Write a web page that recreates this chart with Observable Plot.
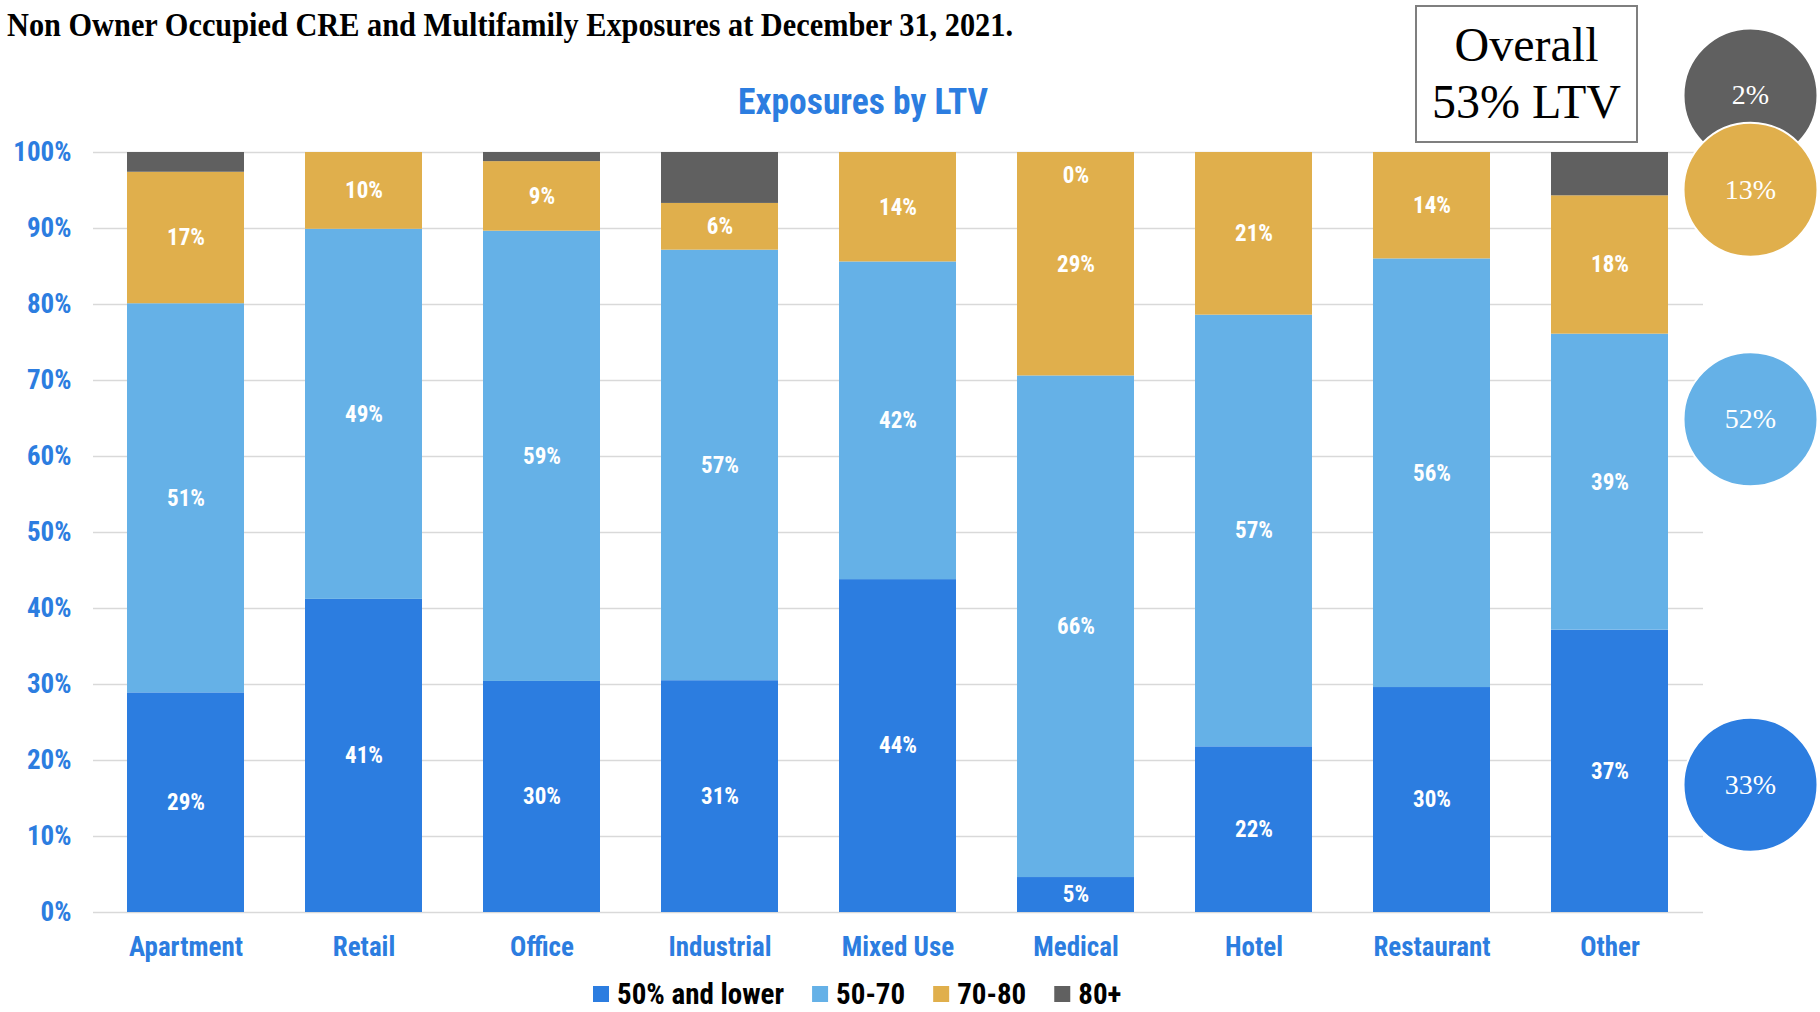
<!DOCTYPE html>
<html>
<head>
<meta charset="utf-8">
<script src="https://cdn.jsdelivr.net/npm/d3@7"></script>
<script src="https://cdn.jsdelivr.net/npm/@observablehq/plot@0.6"></script>
<style>
  html, body { margin: 0; padding: 0; background: #fff; }
  #chart { width: 1820px; height: 1012px; }
  .cond { font-family: "Roboto Condensed", "Liberation Sans Narrow", "Arial Narrow", "DejaVu Sans Condensed", "Noto Sans", sans-serif; font-stretch: condensed; font-weight: bold; }
  g[aria-label="y-axis tick label"] { font-family: "Roboto Condensed", "Liberation Sans Narrow", "Arial Narrow", "Noto Sans", sans-serif; font-stretch: condensed; font-weight: bold; font-size: 27px; fill: #2c7de0; }
  g[aria-label="x-axis tick label"] { font-family: "Roboto Condensed", "Liberation Sans Narrow", "Arial Narrow", "Noto Sans", sans-serif; font-stretch: condensed; font-weight: bold; font-size: 27px; fill: #2c7de0; }
</style>
</head>
<body>
<div id="chart"></div>
<script>
// Property types along the x axis
const categories = ["Apartment", "Retail", "Office", "Industrial", "Mixed Use", "Medical", "Hotel", "Restaurant", "Other"];

// LTV buckets, bottom to top of each stack
const bands = ["50% and lower", "50-70", "70-80", "80+"];

// Share of exposure (%) in each LTV bucket, by property type
const ltv50AndLower = [28.9, 41.2, 30.4, 30.5, 43.8, 4.6, 21.8, 29.6, 37.15];
const ltv50to70     = [51.2, 48.7, 59.25, 56.65, 41.8, 66.0, 56.8, 56.4, 38.95];
const ltv70to80     = [17.3, 10.1, 9.15, 6.15, 14.4, 29.4, 21.4, 14.0, 18.2];
const ltv80Plus     = [2.6, 0, 1.2, 6.7, 0, 0, 0, 0, 5.7];

// Types whose 80+ bucket carries a value label
const labelled80Plus = ["Medical"];

// Whole-portfolio mix by bucket (%) and the overall weighted LTV
const overallShare = [33, 52, 13, 2];
const overallLTV = 53;

// Y axis ticks (%)
const yTicks = [0, 10, 20, 30, 40, 50, 60, 70, 80, 90, 100];

// ---- presentation ----
const colors = ["#2c7de0", "#65b1e7", "#e0af4c", "#606060"];
const condensed = `"Roboto Condensed", "Liberation Sans Narrow", "Arial Narrow", "DejaVu Sans Condensed", "Noto Sans", sans-serif`;
const serif = `"Liberation Serif", "DejaVu Serif", serif`;
// vertical placement of the portfolio bubbles, in y-scale units
const bubbleAt = [16.8, 64.9, 95.1, 107.5];

const series = [ltv50AndLower, ltv50to70, ltv70to80, ltv80Plus];
const rows = categories.flatMap((category, i) =>
  bands.map((band, j) => ({category, band, value: series[j][i]}))
);
const overall = bands.map((band, j) => ({band, share: overallShare[j], at: bubbleAt[j]}));

const pct = v => `${Math.round(v)}%`;

const chart = Plot.plot({
  width: 1820,
  height: 1012,
  marginTop: 152,
  marginBottom: 100,
  marginLeft: 93,
  marginRight: 117,
  style: {fontFamily: condensed, background: "white"},
  x: {domain: categories, paddingInner: 0.34, paddingOuter: 0.17, axis: null},
  y: {domain: [0, 100], axis: null},
  color: {domain: bands, range: colors},
  marks: [
    Plot.gridY(yTicks, {stroke: "#d9d9d9", strokeOpacity: 1, strokeWidth: 1.5}),
    Plot.axisY(yTicks, {tickSize: 0, tickPadding: 22, tickFormat: d => `${d}%`, label: null}),
    Plot.axisX(categories, {tickSize: 0, tickPadding: 24, label: null}),
    Plot.barY(rows, {x: "category", y: "value", fill: "band"}),
    // value labels centred in each segment
    Plot.text(rows, Plot.stackY({
      x: "category", y: "value",
      text: d => d.band === "80+" ? "" : pct(d.value),
      fill: "white", fontSize: 23, fontWeight: "bold", fontFamily: condensed
    })),
    // labels for the 80+ bucket sit just inside the top of the bar
    Plot.text(rows, Plot.stackY({
      x: "category", y: "value",
      text: d => d.band === "80+" && labelled80Plus.includes(d.category) ? pct(d.value) : "",
      fill: "white", fontSize: 23, fontWeight: "bold", fontFamily: condensed, dy: 23
    })),
    // whole-portfolio bubbles to the right of the bars
    Plot.dot(overall, {
      y: "at", fill: "band", r: 67, frameAnchor: "right", dx: 47,
      stroke: "white", strokeWidth: 2, reverse: true
    }),
    Plot.text(overall, {
      y: "at", text: d => `${d.share}%`, frameAnchor: "right", dx: 47,
      textAnchor: "middle", fill: "white", fontSize: 28, fontFamily: serif
    })
  ]
});

document.getElementById("chart").appendChild(chart);
const svg = d3.select(chart);

// heading
svg.append("text")
  .attr("x", 7).attr("y", 36).attr("text-anchor", "start")
  .attr("font-family", serif).attr("font-weight", "bold").attr("font-size", 33)
  .attr("textLength", 1006).attr("lengthAdjust", "spacingAndGlyphs")
  .attr("fill", "#000")
  .text("Non Owner Occupied CRE and Multifamily Exposures at December 31, 2021.");

// chart title
svg.append("text")
  .attr("x", 738).attr("y", 114).attr("text-anchor", "start")
  .attr("font-family", condensed).attr("font-weight", "bold").attr("font-size", 37)
  .style("font-stretch", "condensed")
  .attr("textLength", 250).attr("lengthAdjust", "spacingAndGlyphs")
  .attr("fill", "#2c7de0")
  .text("Exposures by LTV");

// overall LTV call-out box
const box = svg.append("g");
box.append("rect")
  .attr("x", 1416).attr("y", 6).attr("width", 221).attr("height", 136)
  .attr("fill", "white").attr("stroke", "#7f7f7f").attr("stroke-width", 2);
box.append("text")
  .attr("x", 1526.5).attr("y", 61).attr("text-anchor", "middle")
  .attr("font-family", serif).attr("font-size", 48).attr("fill", "#000")
  .text("Overall");
box.append("text")
  .attr("x", 1526.5).attr("y", 118).attr("text-anchor", "middle")
  .attr("font-family", serif).attr("font-size", 48).attr("fill", "#000")
  .text(`${overallLTV}% LTV`);

// legend
const legend = svg.append("g").attr("class", "cond");
let lx = 593;
bands.forEach((band, j) => {
  legend.append("rect")
    .attr("x", lx).attr("y", 986).attr("width", 16).attr("height", 16)
    .attr("fill", colors[j]);
  const t = legend.append("text")
    .attr("x", lx + 24).attr("y", 1004).attr("text-anchor", "start")
    .attr("font-size", 29).attr("fill", "#000")
    .text(band);
  lx += 24 + t.node().getComputedTextLength() + 28;
});
</script>
</body>
</html>
